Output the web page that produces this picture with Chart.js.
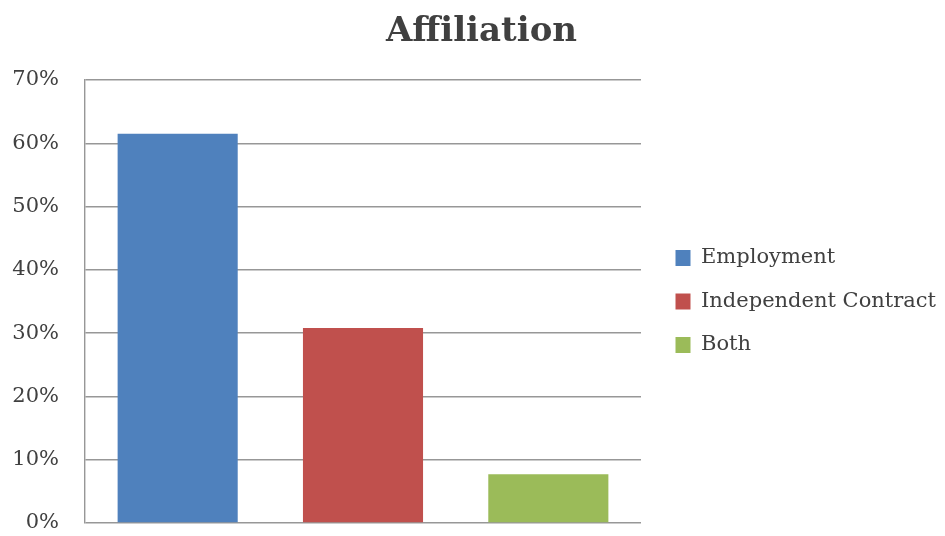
<!DOCTYPE html>
<html>
<head>
<meta charset="utf-8">
<title>Affiliation</title>
<script src="https://cdn.jsdelivr.net/npm/chart.js@4/dist/chart.umd.min.js"></script>
<style>
  html, body { margin: 0; padding: 0; background: #ffffff; }
  #wrap { width: 945px; height: 536px; }
</style>
</head>
<body>
<div id="wrap"><canvas id="chart" width="945" height="536"></canvas></div>
<script>
// Share of respondents by type of affiliation (percent)
const categories = ['Employment', 'Independent Contract', 'Both'];
const shares = [61.5, 30.8, 7.7];
const barColors = ['#4F81BD', '#C0504D', '#9BBB59'];
const yTickValues = [0, 10, 20, 30, 40, 50, 60, 70];

const textColor = '#404040';
const gridColor = '#979797';
const serif = '"DejaVu Serif", "Liberation Serif", serif';

// Plot area edges and the strip kept for the legend on the right
const canvasWidth = 945;
const plotLeft = 85;
const plotRight = 641;
const legendStrip = canvasWidth - plotRight;
const legendShift = 12;   // gap between plot area and legend
const titleShift = 9;     // title sits a little right of the canvas centre

const layoutTweaks = {
  id: 'layoutTweaks',
  beforeLayout(chart) {
    // keep the legend strip at a fixed width
    const lg = chart.legend;
    if (lg && !lg.__fixedWidth) {
      const fit = lg.fit;
      lg.fit = function () {
        fit.call(this);
        if (this.options.display) this.width = legendStrip;
      };
      lg.__fixedWidth = true;
    }
  },
  afterLayout(chart) {
    if (chart.legend) {
      chart.legend.left += legendShift;
      chart.legend.right += legendShift;
    }
    if (chart.titleBlock) {
      chart.titleBlock.left += titleShift;
      chart.titleBlock.right += titleShift;
    }
  }
};

new Chart(document.getElementById('chart'), {
  type: 'bar',
  data: {
    labels: categories,
    datasets: [{
      data: shares,
      backgroundColor: barColors,
      borderWidth: 0,
      categoryPercentage: 1,
      barPercentage: 0.648
    }]
  },
  options: {
    responsive: false,
    animation: false,
    devicePixelRatio: 1,
    layout: { padding: { left: 0, right: 0, top: 0, bottom: 13 } },
    plugins: {
      tooltip: { enabled: false },
      title: {
        display: true,
        text: 'Affiliation',
        color: textColor,
        font: { family: serif, size: 34, weight: 'bold' },
        padding: { top: 12, bottom: 27.2 }
      },
      legend: {
        display: true,
        position: 'right',
        fullSize: false,
        onClick: null,
        labels: {
          color: textColor,
          font: { family: serif, size: 21 },
          boxWidth: 15,
          boxHeight: 16,
          padding: 22.5,
          generateLabels: () => categories.map((t, i) => ({
            text: t,
            fillStyle: barColors[i],
            strokeStyle: barColors[i],
            lineWidth: 0,
            fontColor: textColor,
            hidden: false,
            index: i
          }))
        }
      }
    },
    scales: {
      x: { display: false },
      y: {
        min: 0,
        max: 70,
        afterBuildTicks(scale) {
          scale.ticks = yTickValues.map(v => ({ value: v }));
        },
        afterFit(scale) {
          scale.width = plotLeft;
          scale.paddingTop = 0;
          scale.paddingBottom = 0;
        },
        grid: { color: gridColor, lineWidth: 1.4, drawTicks: false },
        border: { display: true, color: gridColor, width: 1.4 },
        ticks: {
          color: textColor,
          font: { family: serif, size: 21 },
          padding: 26,
          callback: v => v + '%'
        }
      }
    }
  },
  plugins: [layoutTweaks]
});
</script>
</body>
</html>
